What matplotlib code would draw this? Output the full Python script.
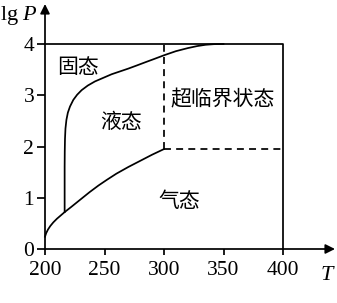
import matplotlib
matplotlib.use('Agg')
import matplotlib.pyplot as plt

plt.rcParams['font.family'] = ['Liberation Serif', 'DejaVu Serif']
plt.rcParams['mathtext.fontset'] = 'custom'
plt.rcParams['mathtext.rm'] = 'Liberation Serif'
plt.rcParams['mathtext.it'] = 'Liberation Serif:italic'

# data (T, lg P)
gas_liquid_T = [200, 201, 202.5, 204.5, 207, 210, 213, 216.5, 222, 230, 237.5,
                245, 252, 260, 270, 280, 290, 300]
gas_liquid_P = [0.24, 0.31, 0.38, 0.45, 0.52, 0.59, 0.65, 0.72, 0.82, 0.97, 1.11,
                1.24, 1.35, 1.47, 1.60, 1.72, 1.84, 1.95]

solid_liquid_T = [216.5, 216.5, 216.6, 216.8, 217.2, 218, 219.2, 221, 223.8, 227,
                  230.8, 236, 242, 249, 256, 263, 270, 277, 285, 292, 300, 310,
                  320, 328, 335, 342, 350]
solid_liquid_P = [0.72, 1.6, 1.9, 2.15, 2.35, 2.52, 2.66, 2.78, 2.91, 3.01,
                  3.10, 3.19, 3.27, 3.34, 3.41, 3.465, 3.52, 3.58, 3.65, 3.71, 3.78, 3.86,
                  3.92, 3.96, 3.985, 3.997, 4.0]

crit_T, crit_P = 300, 1.95
T_max, P_max = 400, 4

x_ticks = [200, 250, 300, 350, 400]
y_ticks = [0, 1, 2, 3, 4]

region_labels = ['固态', '液态', '超临界状态', '气态']
region_T = [228, 264, 349, 313]
region_P = [3.55, 2.48, 2.91, 0.94]

W, H = 337, 303
fig = plt.figure(figsize=(W / 100, H / 100), dpi=100)
# pixel layout: T=200 at x=45, 1.19 px per K; lgP=0 at y=249, 51.25 px per unit
ax = fig.add_axes([45 / W, (H - 249) / H, 292 / W, 249 / H])
ax.set_xlim(200, 200 + 292 / 1.19)
ax.set_ylim(0, 249 / 51.25)
for s in ax.spines.values():
    s.set_visible(False)

lw = 1.25
# axes with arrows
ax.annotate('', xy=(200 + 290 / 1.19, 0), xytext=(200, 0),
            arrowprops=dict(arrowstyle='-|>', lw=lw, color='k', mutation_scale=14,
                            shrinkA=0, shrinkB=0), annotation_clip=False)
ax.annotate('', xy=(200, 245 / 51.25), xytext=(200, 0),
            arrowprops=dict(arrowstyle='-|>', lw=lw, color='k', mutation_scale=14,
                            shrinkA=0, shrinkB=0), annotation_clip=False)

# box
ax.plot([200, T_max, T_max], [P_max, P_max, 0], color='k', lw=lw, clip_on=False)
# dashed critical lines
ax.plot([crit_T, crit_T], [crit_P, P_max], color='k', lw=lw, ls=(0, (4, 3)))
ax.plot([crit_T, T_max], [crit_P, crit_P], color='k', lw=lw, ls=(0, (4, 3)))
# curves
ax.plot(gas_liquid_T, gas_liquid_P, color='k', lw=lw, clip_on=False,
        solid_joinstyle='round')
ax.plot(solid_liquid_T, solid_liquid_P, color='k', lw=lw, clip_on=False,
        solid_joinstyle='round')

ax.set_xticks(x_ticks)
ax.set_yticks(y_ticks)
ax.tick_params(axis='x', direction='out', length=4.3, width=lw, pad=4.5, labelsize=15.5)
ax.tick_params(axis='y', direction='out', length=5.8, width=lw, pad=2, labelsize=15.5)

for lab, t, p in zip(region_labels, region_T, region_P):
    ax.text(t, p, lab, ha='center', va='center', fontsize=15,
            family=['Noto Sans CJK SC', 'DejaVu Sans'], fontweight='light')

fig.text(0 / W, 1 - 20 / H, r'$\mathrm{lg}\ P$', fontsize=16, ha='left', va='baseline')
fig.text(320 / W, 1 - 280 / H, r'$T$', fontsize=16, ha='left', va='baseline')

fig.savefig('out.png', dpi=100)
